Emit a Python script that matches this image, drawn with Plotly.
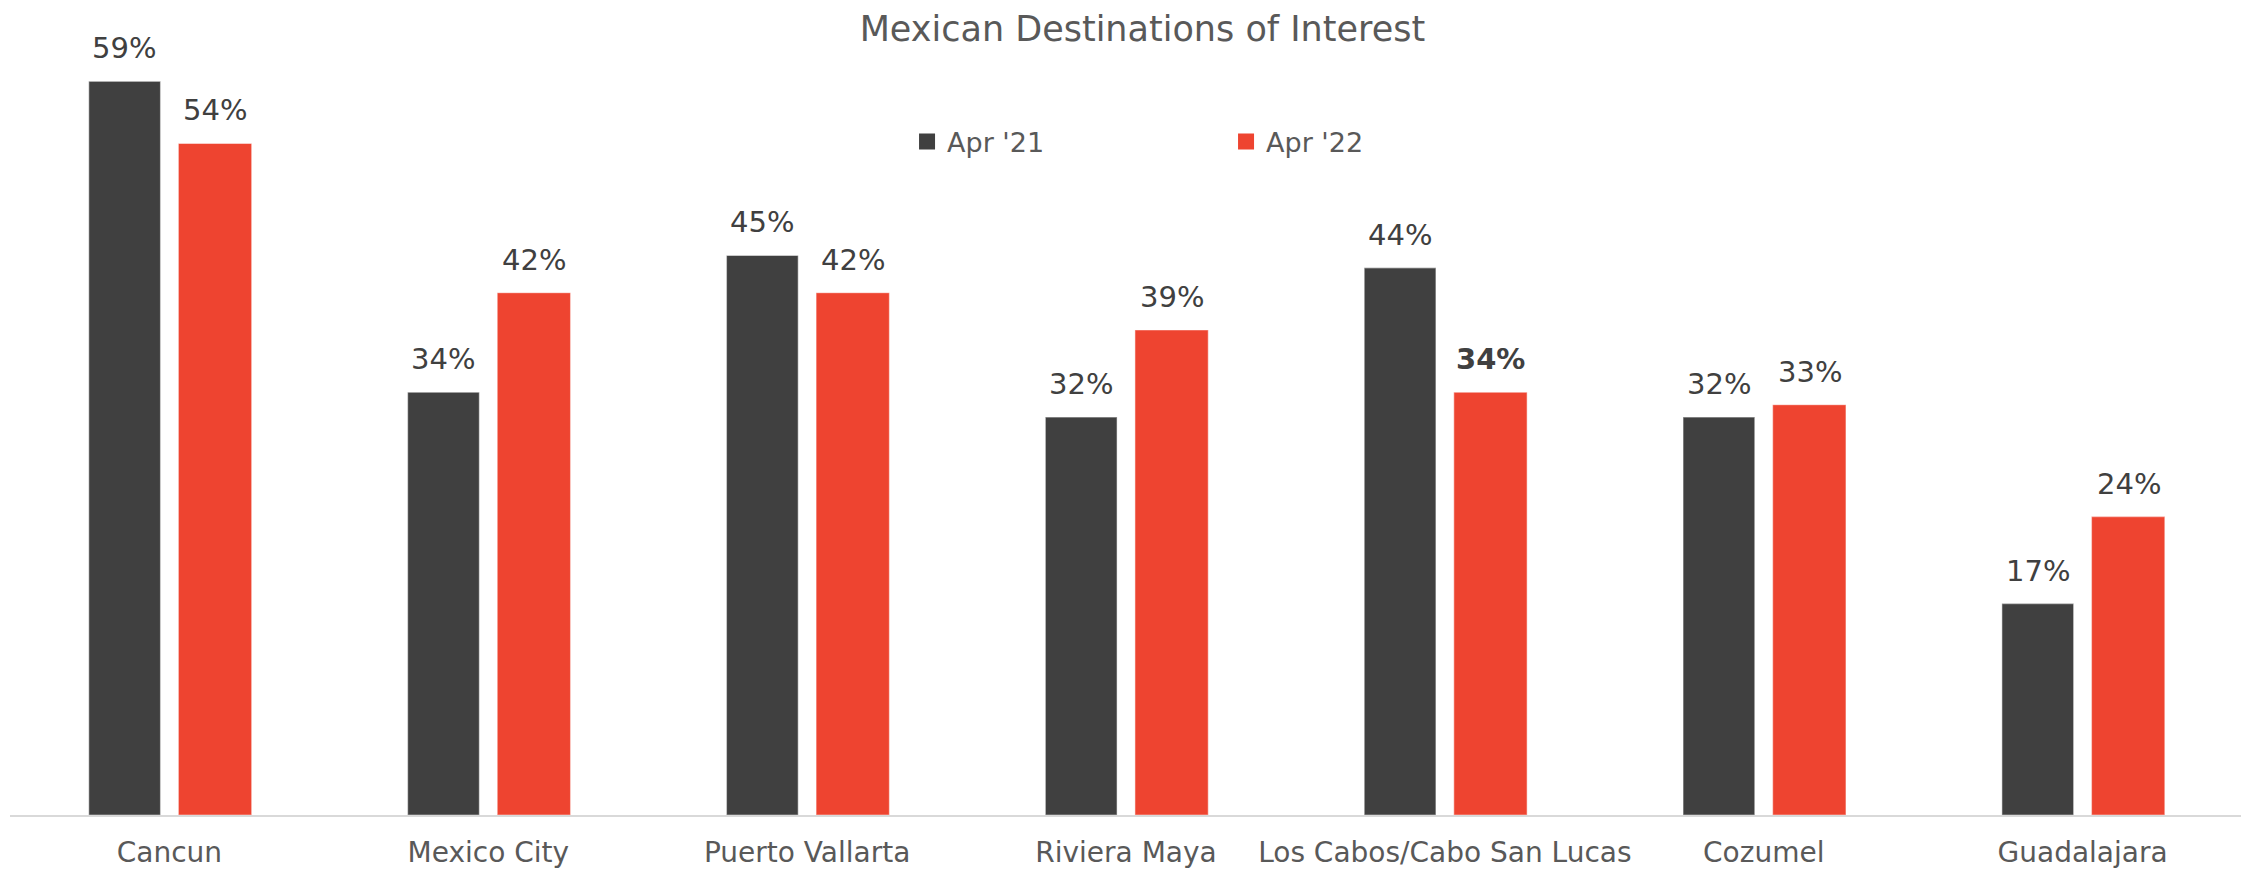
import plotly.graph_objects as go

categories = ["Cancun", "Mexico City", "Puerto Vallarta", "Riviera Maya",
              "Los Cabos/Cabo San Lucas", "Cozumel", "Guadalajara"]
apr21 = [59, 34, 45, 32, 44, 32, 17]
apr22 = [54, 42, 42, 39, 34, 33, 24]
bold22 = [False, False, False, False, True, False, False]
series_names = ["Apr '21", "Apr '22"]

DARK = "#404040"
RED = "#EE4430"
TEXT = "#595959"
FONT = "DejaVu Sans"

# the page body adds an 8px margin, so the figure is sized to fit the window
W, H = 2241, 861

fig = go.Figure()
fig.add_trace(go.Bar(name=series_names[0], x=categories, y=apr21, marker_color=DARK,
                     marker_line=dict(width=1.2, color="rgba(255,255,255,0.45)"),
                     width=0.225, offset=-0.253, showlegend=False))
fig.add_trace(go.Bar(name=series_names[1], x=categories, y=apr22, marker_color=RED,
                     marker_line=dict(width=1.2, color="rgba(255,255,255,0.45)"),
                     width=0.230, offset=0.028, showlegend=False))
# legend entries with larger square swatches
for nm, col in zip(series_names, [DARK, RED]):
    fig.add_trace(go.Scatter(name=nm, x=[None], y=[None], mode="markers",
                             marker=dict(symbol="square", size=19, color=col)))

annotations = []
for c, v in zip(categories, apr21):
    annotations.append(dict(x=c, y=v, xref="x", yref="y", text=f"{v}%",
                            showarrow=False, yanchor="middle", xshift=-45, yshift=33,
                            font=dict(family=FONT, size=29, color=DARK)))
for c, v, b in zip(categories, apr22, bold22):
    t = f"<b>{v}%</b>" if b else f"{v}%"
    annotations.append(dict(x=c, y=v, xref="x", yref="y", text=t,
                            showarrow=False, yanchor="middle", xshift=46, yshift=33,
                            font=dict(family=FONT, size=29, color=DARK)))

fig.update_layout(
    width=W, height=H,
    margin=dict(l=2, r=7, t=36, b=54),
    paper_bgcolor="white", plot_bgcolor="white",
    barmode="overlay",
    title=dict(text="Mexican Destinations of Interest", x=0.5062, xanchor="center",
               xref="container", y=1 - 21 / H, yanchor="middle", yref="container",
               font=dict(family=FONT, size=35, color=TEXT)),
    legend=dict(orientation="h", x=0.4019, xanchor="left", y=0.873, yanchor="middle",
                font=dict(family=FONT, size=27, color=TEXT),
                entrywidth=274, entrywidthmode="pixels", bgcolor="rgba(0,0,0,0)"),
    xaxis=dict(showline=True, linecolor="#D9D9D9", linewidth=2, ticks="outside",
               ticklen=11, tickcolor="rgba(0,0,0,0)", showgrid=False, automargin=False,
               range=[-0.5, 6.5],
               tickfont=dict(family=FONT, size=28, color=TEXT)),
    yaxis=dict(range=[0, 62], visible=False, showgrid=False, automargin=False),
    annotations=annotations,
)

fig.write_html("out.html")
